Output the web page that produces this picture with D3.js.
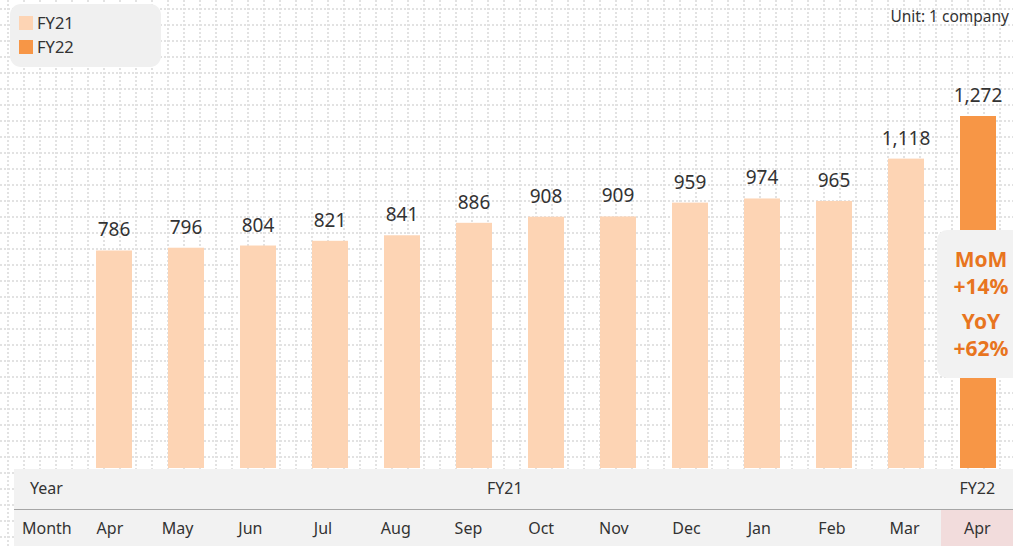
<!DOCTYPE html>
<html>
<head>
<meta charset="utf-8">
<script src="https://cdn.jsdelivr.net/npm/d3@7"></script>
<style>
  html, body { margin: 0; padding: 0; background: #fff; }
  svg { display: block; font-family: "Noto Sans", "DejaVu Sans", sans-serif; }
</style>
</head>
<body>
<div id="chart"></div>
<script>
const WIDTH = 1013
const HEIGHT = 546

// data
const months = ["Apr", "May", "Jun", "Jul", "Aug", "Sep", "Oct", "Nov", "Dec", "Jan", "Feb", "Mar", "Apr"]
const fiscalYears = ["FY21", "FY21", "FY21", "FY21", "FY21", "FY21", "FY21", "FY21", "FY21", "FY21", "FY21", "FY21", "FY22"]
const companies = [786, 796, 804, 821, 841, 886, 908, 909, 959, 974, 965, 1118, 1272]
const seriesNames = ["FY21", "FY22"]
const seriesColors = ["#fdd4b4", "#f79646"]
const callout = ["MoM", "+14%", "YoY", "+62%"]

const svg = d3.select("#chart").append("svg")
  .attr("width", WIDTH)
  .attr("height", HEIGHT)

// dotted background grid
const grid = svg.append("g").attr("stroke", "#e2e2e2").attr("stroke-width", 2).attr("stroke-dasharray", "2,2")
grid.selectAll(".h").data(d3.range(9, HEIGHT, 16)).enter().append("line")
  .attr("x1", 0).attr("x2", WIDTH).attr("y1", d => d).attr("y2", d => d)
grid.selectAll(".v").data(d3.range(8, WIDTH, 16)).enter().append("line")
  .attr("y1", 0).attr("y2", HEIGHT).attr("x1", d => d).attr("x2", d => d)

// scales
const idx = d3.range(companies.length)
const x = d3.scaleBand().domain(idx).range([78, 1014]).paddingInner(0.5).paddingOuter(0.25)
const y = d3.scaleLinear().domain([0, 1272]).range([468, 116])
const color = d3.scaleOrdinal().domain(seriesNames).range(seriesColors)

// bars
svg.append("g").selectAll("rect").data(idx).enter().append("rect")
  .attr("x", i => x(i))
  .attr("y", i => y(companies[i]))
  .attr("width", x.bandwidth())
  .attr("height", i => y(0) - y(companies[i]))
  .attr("fill", i => color(fiscalYears[i]))

// value labels
svg.append("g").selectAll("text").data(idx).enter().append("text")
  .attr("x", i => x(i) + x.bandwidth() / 2)
  .attr("y", i => y(companies[i]) - 14)
  .attr("text-anchor", "middle")
  .attr("font-size", 19)
  .attr("fill", "#333")
  .text(i => d3.format(",")(companies[i]))

// MoM / YoY callout on last bar
const last = idx[idx.length - 1]
const cx = x(last) + x.bandwidth() / 2 + 3
svg.append("rect")
  .attr("x", 937).attr("y", 230).attr("width", 90).attr("height", 148)
  .attr("rx", 10).attr("fill", "#f2f2f2")
svg.append("g").selectAll("text").data(callout).enter().append("text")
  .attr("x", cx)
  .attr("y", (d, i) => [267, 294, 329, 356][i])
  .attr("text-anchor", "middle")
  .attr("font-size", 21)
  .attr("font-weight", "bold")
  .attr("fill", "#e8751f")
  .text(d => d)

// legend
const legend = svg.append("g")
legend.append("rect").attr("x", 10).attr("y", 4).attr("width", 151).attr("height", 63)
  .attr("rx", 11).attr("fill", "#f0f0f0")
seriesNames.forEach((s, i) => {
  legend.append("rect").attr("x", 19).attr("y", 16 + i * 24).attr("width", 14).attr("height", 14)
    .attr("fill", color(s))
  legend.append("text").attr("x", 37).attr("y", 29 + i * 24)
    .attr("font-size", 16.5).attr("fill", "#333").text(s)
})

// unit note
svg.append("text").attr("x", 1009).attr("y", 22)
  .attr("text-anchor", "end").attr("font-size", 15.5).attr("fill", "#333")
  .text("Unit: 1 company")

// table under the chart
const col = d3.scaleBand().domain(idx).range([68.6, 1013.7])
const table = svg.append("g")
table.append("rect").attr("x", 14).attr("y", 469).attr("width", WIDTH - 14).attr("height", HEIGHT - 469)
  .attr("fill", "#f2f2f2")
table.append("rect").attr("x", col(last)).attr("y", 510).attr("width", WIDTH - col(last)).attr("height", 36)
  .attr("fill", "#f2dcdc")
table.append("line").attr("x1", 14).attr("x2", WIDTH).attr("y1", 509.5).attr("y2", 509.5)
  .attr("stroke", "#a6a6a6").attr("stroke-width", 1)

table.append("text").attr("x", 30).attr("y", 494).attr("font-size", 16).attr("fill", "#333").text("Year")
table.append("text").attr("x", 22).attr("y", 534).attr("font-size", 16).attr("fill", "#333").text("Month")

// year group labels centred over their months
const groups = d3.groups(idx, i => fiscalYears[i])
table.selectAll(".yr").data(groups).enter().append("text")
  .attr("x", g => (col(g[1][0]) + col(g[1][g[1].length - 1]) + col.bandwidth()) / 2)
  .attr("y", 494)
  .attr("text-anchor", "middle").attr("font-size", 16).attr("fill", "#333")
  .text(g => g[0])

table.selectAll(".mo").data(idx).enter().append("text")
  .attr("x", i => col(i) + col.bandwidth() / 2 + (i === 0 ? 5 : 0))
  .attr("y", 534)
  .attr("text-anchor", "middle").attr("font-size", 16).attr("fill", "#333")
  .text(i => months[i])
</script>
</body>
</html>
